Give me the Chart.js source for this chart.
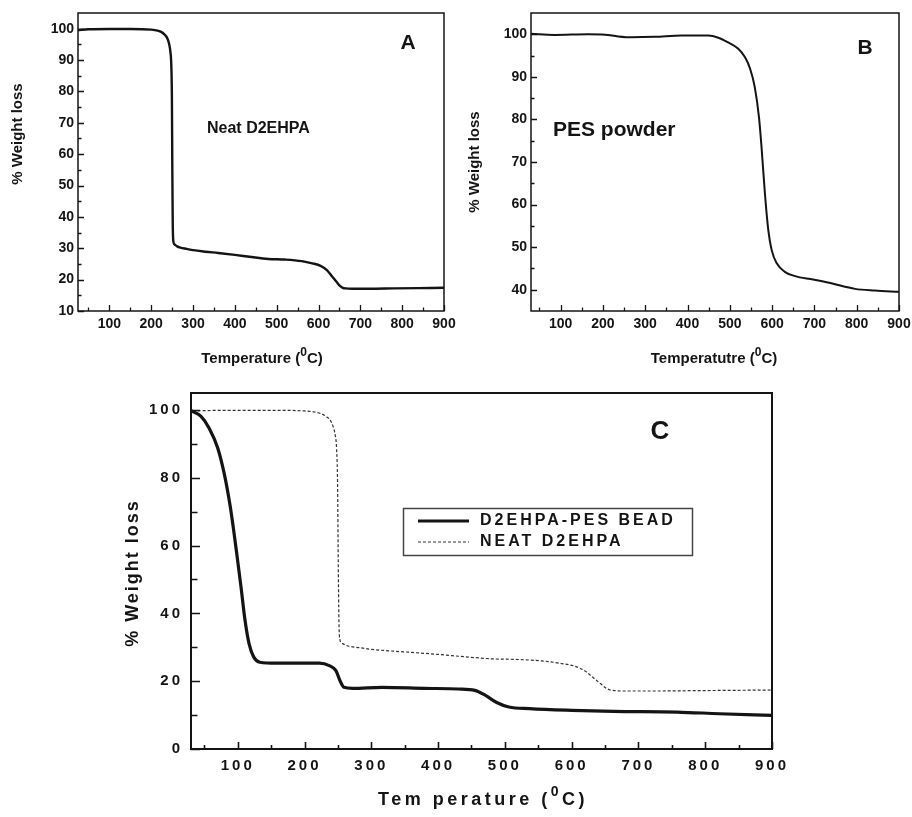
<!DOCTYPE html>
<html><head><meta charset="utf-8">
<script src="https://cdn.jsdelivr.net/npm/chart.js@4.4.1/dist/chart.umd.min.js"></script>
<style>
html,body{margin:0;padding:0;background:#fff;}
body{width:912px;height:817px;position:relative;overflow:hidden;}
canvas{position:absolute;}
#cA{left:0;top:0;} #cB{left:456px;top:0;} #cC{left:0;top:375px;}
</style></head><body>
<canvas id="cA" width="456" height="375" style="width:456px;height:375px"></canvas>
<canvas id="cB" width="456" height="375" style="width:456px;height:375px"></canvas>
<canvas id="cC" width="912" height="442" style="width:912px;height:442px"></canvas>
<script>
// ---- data ----
const neatTemp   = [25, 50, 100, 150, 200, 215, 225, 233, 239, 243, 246, 248, 249.5, 250.5, 251.5, 253, 256, 262, 270, 285, 300, 330, 360, 400, 440, 480, 520, 560, 585, 605, 620, 632, 643, 652, 658, 665, 680, 720, 780, 840, 900];
const neatWeight = [99.6, 99.8, 99.9, 99.9, 99.7, 99.4, 98.9, 98.0, 96.8, 95.0, 92.5, 88.5, 78, 55, 38, 32.2, 31.2, 30.6, 30.2, 29.8, 29.4, 28.9, 28.5, 27.9, 27.2, 26.6, 26.4, 25.9, 25.2, 24.4, 23.0, 21.1, 19.3, 17.9, 17.4, 17.2, 17.1, 17.1, 17.2, 17.3, 17.4];

const pesTemp   = [30, 85, 165, 205, 236, 268, 323, 386, 449, 473, 496, 520, 536, 548, 559, 569, 575, 583, 591, 599, 611, 630, 654, 697, 740, 796, 843, 900];
const pesWeight = [100.1, 99.85, 100, 99.9, 99.5, 99.3, 99.4, 99.7, 99.7, 99.2, 98.1, 96.6, 94.6, 91.9, 87.6, 80.5, 73.5, 62.6, 54.0, 49.3, 46.2, 44.2, 43.2, 42.4, 41.5, 40.2, 39.8, 39.5];

const beadTemp   = [30, 45, 57, 70, 80, 89, 98, 105, 111, 117, 124, 133, 158, 222, 237, 247, 253, 259, 272, 316, 379, 430, 455, 471, 487, 506, 537, 600, 663, 758, 821, 900];
const beadWeight = [99.8, 98.1, 94.7, 88.8, 81, 71.2, 58.4, 47.6, 37.8, 31, 27.1, 25.6, 25.3, 25.3, 24.6, 23.1, 20.2, 18.2, 17.9, 18.2, 17.9, 17.7, 17.3, 15.8, 13.8, 12.4, 11.9, 11.4, 11.1, 10.9, 10.4, 9.9];

const tempTicks      = [100, 200, 300, 400, 500, 600, 700, 800, 900];
const tempMinorTicks = [50, 150, 250, 350, 450, 550, 650, 750, 850];
const weightTicksA      = [10, 20, 30, 40, 50, 60, 70, 80, 90, 100];
const weightMinorTicksA = [15, 25, 35, 45, 55, 65, 75, 85, 95];
const weightTicksB      = [40, 50, 60, 70, 80, 90, 100];
const weightMinorTicksB = [45, 55, 65, 75, 85, 95];
const weightTicksC      = [0, 20, 40, 60, 80, 100];
const weightMinorTicksC = [10, 30, 50, 70, 90];

const seriesLabels = ['D2EHPA-PES BEAD', 'NEAT D2EHPA'];

const pts = (xs, ys) => xs.map((t, i) => ({x: t, y: ys[i]}));
const INK = '#141414';
const FONT = "'Liberation Sans', Arial, sans-serif";

function drawTempTitle(ctx, cx, cy, main, size, spacing) {
  ctx.save();
  ctx.fillStyle = INK;
  ctx.textBaseline = 'alphabetic';
  ctx.textAlign = 'left';
  ctx.letterSpacing = spacing + 'px';
  const f1 = `bold ${size}px ${FONT}`, f2 = `bold ${Math.round(size * 0.8)}px ${FONT}`;
  ctx.font = f1; const w1 = ctx.measureText(main).width; const w3 = ctx.measureText('C)').width;
  ctx.font = f2; const w2 = ctx.measureText('0').width;
  let x = cx - (w1 + w2 + w3) / 2;
  const base = cy + size * 0.36;
  ctx.font = f1; ctx.fillText(main, x, base); x += w1;
  ctx.font = f2; ctx.fillText('0', x, base - size * 0.5); x += w2;
  ctx.font = f1; ctx.fillText('C)', x, base);
  ctx.restore();
}
function drawText(ctx, txt, x, y, size, align, spacing, rot) {
  ctx.save();
  ctx.fillStyle = INK;
  ctx.font = `bold ${size}px ${FONT}`;
  ctx.letterSpacing = (spacing || 0) + 'px';
  ctx.textAlign = align || 'center';
  ctx.textBaseline = 'middle';
  ctx.translate(x, y);
  if (rot) ctx.rotate(-Math.PI / 2);
  ctx.fillText(txt, 0, 0);
  ctx.restore();
}

function decorPlugin(spec) {
  return {
    id: 'decor',
    beforeDraw(chart) { chart.ctx.letterSpacing = (spec.tickSpacing || 0) + 'px'; },
    afterDatasetsDraw(chart) {
      const {ctx, chartArea: a, scales: {x, y}} = chart;
      ctx.save();
      ctx.letterSpacing = '0px';
      ctx.strokeStyle = INK;
      ctx.lineWidth = spec.frameWidth;
      ctx.strokeRect(a.left, a.top, a.right - a.left, a.bottom - a.top);
      ctx.lineWidth = spec.tickWidth;
      ctx.beginPath();
      const xt = (vals, len) => vals.forEach(v => { const p = Math.round(x.getPixelForValue(v)) + 0.5; ctx.moveTo(p, a.bottom); ctx.lineTo(p, a.bottom - len); });
      const yt = (vals, len) => vals.forEach(v => { const p = Math.round(y.getPixelForValue(v)) + 0.5; ctx.moveTo(a.left, p); ctx.lineTo(a.left + len, p); });
      xt(tempTicks, spec.xMaj); xt(tempMinorTicks, spec.xMin);
      yt(spec.yTicks, spec.yMaj); yt(spec.yMinor, spec.yMin);
      ctx.stroke();
      ctx.restore();
    },
    afterDraw(chart) {
      const ctx = chart.ctx;
      ctx.letterSpacing = '0px';
      spec.texts(ctx, chart);
    }
  };
}

function makeChart(id, datasets, xMin, yMin, yMax, yTicks, layout, spec) {
  return new Chart(document.getElementById(id), {
    type: 'scatter',
    data: {datasets},
    options: {
      responsive: false, animation: false, events: [],
      layout: {padding: {left: 0, top: layout.top, right: layout.right, bottom: layout.bottom}},
      plugins: {legend: {display: false}, tooltip: {enabled: false}},
      elements: {point: {radius: 0}},
      scales: {
        x: {
          type: 'linear', min: xMin, max: 900,
          grid: {display: false, drawTicks: false}, border: {display: false},
          ticks: {color: INK, font: {family: FONT, size: spec.tickFont, weight: 'bold'}, padding: layout.xPad, maxRotation: 0, autoSkip: false},
          afterBuildTicks: s => { s.ticks = tempTicks.map(v => ({value: v})); },
          afterFit: s => { s.height = layout.xH; s.paddingLeft = 0; s.paddingRight = 0; }
        },
        y: {
          type: 'linear', min: yMin, max: yMax,
          grid: {display: false, drawTicks: false}, border: {display: false},
          ticks: {color: INK, font: {family: FONT, size: spec.tickFont, weight: 'bold'}, padding: layout.yPad, autoSkip: false},
          afterBuildTicks: s => { s.ticks = yTicks.map(v => ({value: v})); },
          afterFit: s => { s.width = layout.yW; s.paddingTop = 0; s.paddingBottom = 0; }
        }
      }
    },
    plugins: [decorPlugin(spec)]
  });
}

// Panel A
makeChart('cA', [{
  data: pts(neatTemp, neatWeight), showLine: true, borderColor: INK, borderWidth: 2.4,
  cubicInterpolationMode: 'monotone'
}], 25, 10, 105, weightTicksA,
  {top: 13, right: 12, bottom: 24, xH: 40, yW: 78, xPad: 5, yPad: 4},
  {tickFont: 14, frameWidth: 1.5, tickWidth: 1.3, xMaj: 6, xMin: 3.5, yMaj: 6, yMin: 3.5,
   yTicks: weightTicksA, yMinor: weightMinorTicksA,
   texts: (ctx) => {
     drawText(ctx, '% Weight loss', 18, 134, 15, 'center', 0, true);
     drawTempTitle(ctx, 262, 358, 'Temperature (', 15, 0);
     drawText(ctx, 'A', 408, 43, 21, 'center');
     drawText(ctx, 'Neat D2EHPA', 207, 129, 16, 'left');
   }});

// Panel B
makeChart('cB', [{
  data: pts(pesTemp, pesWeight), showLine: true, borderColor: INK, borderWidth: 2,
  cubicInterpolationMode: 'monotone'
}], 30, 35, 105, weightTicksB,
  {top: 13, right: 13, bottom: 24, xH: 40, yW: 75, xPad: 5, yPad: 4},
  {tickFont: 14, frameWidth: 1.5, tickWidth: 1.3, xMaj: 6, xMin: 3.5, yMaj: 6, yMin: 3.5,
   yTicks: weightTicksB, yMinor: weightMinorTicksB,
   texts: (ctx) => {
     drawText(ctx, '% Weight loss', 19, 162, 15, 'center', 0, true);
     drawTempTitle(ctx, 258, 358, 'Temperatutre (', 15, 0);
     drawText(ctx, 'B', 409, 48, 21, 'center');
     drawText(ctx, 'PES powder', 97, 130, 21, 'left');
   }});

// Panel C
makeChart('cC', [{
  label: seriesLabels[0], data: pts(beadTemp, beadWeight), showLine: true, borderColor: INK, borderWidth: 3.2,
  cubicInterpolationMode: 'monotone'
}, {
  label: seriesLabels[1], data: pts(neatTemp, neatWeight), showLine: true, borderColor: '#333', borderWidth: 1.2,
  borderDash: [3, 2], cubicInterpolationMode: 'monotone'
}], 30, 0, 105, weightTicksC,
  {top: 18, right: 140, bottom: 18, xH: 50, yW: 191, xPad: 8, yPad: 8},
  {tickFont: 15, tickSpacing: 3, frameWidth: 2, tickWidth: 1.6, xMaj: 7, xMin: 4, yMaj: 9, yMin: 6.5,
   yTicks: weightTicksC, yMinor: weightMinorTicksC,
   texts: (ctx, chart) => {
     drawText(ctx, '% Weight loss', 133, 198, 18, 'center', 2, true);
     drawTempTitle(ctx, 483, 424, 'Tem perature (', 18, 3.5);
     drawText(ctx, 'C', 660, 57, 26, 'center');
     // legend box
     ctx.save();
     ctx.strokeStyle = '#444'; ctx.lineWidth = 1.5;
     ctx.strokeRect(403.5, 133.5, 289, 47);
     const rows = [146, 167];
     chart.data.datasets.forEach((ds, i) => {
       ctx.save();
       ctx.strokeStyle = ds.borderColor; ctx.lineWidth = ds.borderWidth;
       ctx.setLineDash(ds.borderDash || []);
       ctx.beginPath(); ctx.moveTo(418, rows[i]); ctx.lineTo(469, rows[i]); ctx.stroke();
       ctx.restore();
       drawText(ctx, ds.label, 480, rows[i], 16, 'left', 3);
     });
     ctx.restore();
   }});
</script>
</body></html>
